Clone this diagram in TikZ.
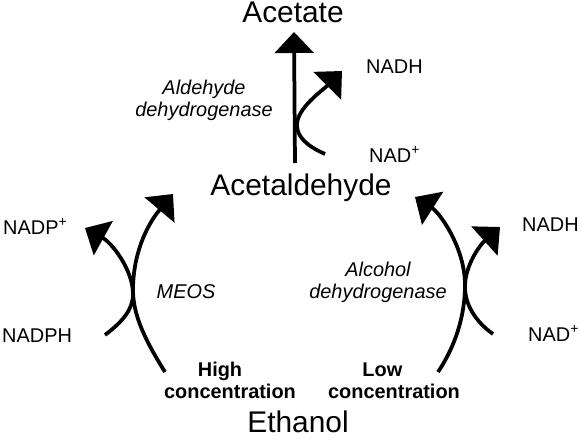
\documentclass[tikz,border=0pt]{standalone}
\usepackage{fontspec}
\setmainfont{Liberation Sans}
\usetikzlibrary{arrows.meta}

\begin{document}
\begin{tikzpicture}[x=0.3mm,y=-0.3mm,
  big/.style={font=\fontsize{25.5}{30}\selectfont,anchor=base,inner sep=0pt},
  small/.style={font=\fontsize{17}{19}\selectfont,anchor=base west,inner sep=0pt},
  enz/.style={font=\fontsize{17}{18.5}\selectfont\itshape,align=center,anchor=base,inner sep=0pt},
  conc/.style={font=\fontsize{17}{18}\selectfont\bfseries,align=center,anchor=base,inner sep=0pt},
  rxn/.style={line width=3.2pt,-{Triangle[length=6.3mm,width=11.6mm]}}]
\useasboundingbox (0,0) rectangle (581,439);
\node[big] (acetate) at (293,23) {Acetate};
\node[big] (acald) at (301,195) {Acetaldehyde};
\node[big] (ethanol) at (298,432) {Ethanol};
\node[small] (nadh1) at (366,74) {NADH};
\node[small] (nad1) at (369,162) {NAD\textsuperscript{+}};
\node[enz] (aldh) at (204,116) {Aldehyde\\dehydrogenase};
\node[small] (nadp) at (3,234) {NADP\textsuperscript{+}};
\node[small] (nadph) at (2,342) {NADPH};
\node[enz] (meos) at (186,298) {MEOS};
\node[conc] (high) at (230,398) {High\hspace*{6mm}\\concentration};
\node[conc] (low) at (394,398) {Low\hspace*{7mm}\\concentration};
\node[enz] (adh) at (378,298) {Alcohol\\dehydrogenase};
\node[small] (nadh2) at (522,231) {NADH};
\node[small] (nad2) at (528,341) {NAD\textsuperscript{+}};
\coordinate (a0) at (295,163);
\coordinate (a1) at (294,32);
\coordinate (b0) at (325,154);
\coordinate (b1) at (342,71);
\coordinate (c0) at (165,372);
\coordinate (c1) at (173,194);
\coordinate (d0) at (105,335);
\coordinate (d1) at (85,228);
\coordinate (e0) at (438,372);
\coordinate (e1) at (415,197);
\coordinate (f0) at (493,334);
\coordinate (f1) at (500,227);
\draw [rxn] (a0) -- (a1);
\draw [rxn] (b0) .. controls (307,146) and (297,137) .. (297,125) .. controls (297,108) and (322,91) .. (b1);
\draw [rxn] (c0) .. controls (145,340) and (133,315) .. (133,290) .. controls (133,255) and (146,226) .. (c1);
\draw [rxn] (d0) .. controls (122,322) and (133,310) .. (133,294) .. controls (133,270) and (112,243) .. (d1);
\draw [rxn] (e0) .. controls (456,345) and (465,315) .. (465,285) .. controls (465,248) and (440,213) .. (e1);
\draw [rxn] (f0) .. controls (476,322) and (465,305) .. (465,287) .. controls (465,265) and (480,245) .. (f1);
\end{tikzpicture}
\end{document}
